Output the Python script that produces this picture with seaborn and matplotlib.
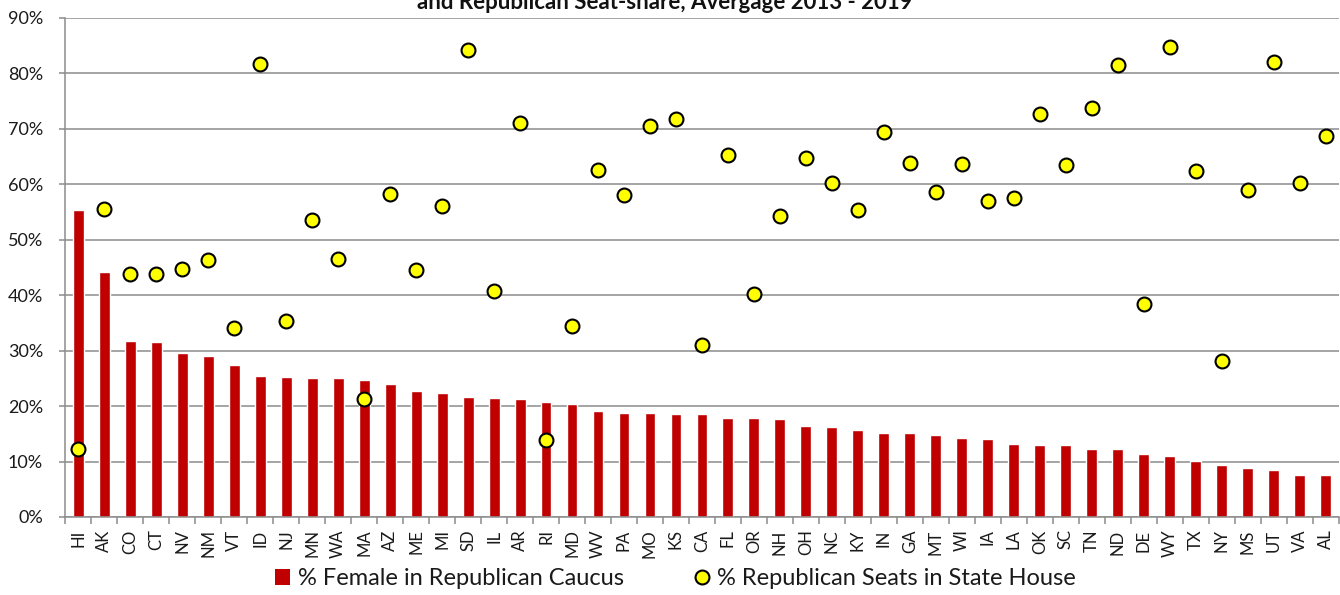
import numpy as np
import pandas as pd
import matplotlib
matplotlib.use("Agg")
import matplotlib.pyplot as plt
from matplotlib.patches import Patch
from matplotlib.lines import Line2D
from matplotlib.ticker import PercentFormatter, FixedLocator
import seaborn as sns

states = ["HI", "AK", "CO", "CT", "NV", "NM", "VT", "ID", "NJ", "MN",
          "WA", "MA", "AZ", "ME", "MI", "SD", "IL", "AR", "RI", "MD",
          "WV", "PA", "MO", "KS", "CA", "FL", "OR", "NH", "OH", "NC",
          "KY", "IN", "GA", "MT", "WI", "IA", "LA", "OK", "SC", "TN",
          "ND", "DE", "WY", "TX", "NY", "MS", "UT", "VA", "AL"]

# % of the Republican caucus that is female
female_pct = [55.3, 44.1, 31.7, 31.5, 29.5, 29.1, 27.5, 25.4, 25.2, 25.0,
              25.0, 24.7, 24.0, 22.8, 22.4, 21.6, 21.5, 21.2, 20.7, 20.4,
              19.1, 18.8, 18.7, 18.5, 18.5, 17.9, 17.8, 17.6, 16.5, 16.3,
              15.7, 15.2, 15.1, 14.7, 14.2, 14.1, 13.2, 13.0, 13.0, 12.3,
              12.2, 11.3, 11.0, 10.1, 9.4, 8.9, 8.5, 7.6, 7.5]

# % of state house seats held by Republicans
gop_seat_pct = [12.2, 55.5, 43.8, 43.8, 44.8, 46.3, 34.1, 81.7, 35.3, 53.6,
                46.5, 21.2, 58.3, 44.6, 56.0, 84.3, 40.7, 71.0, 13.8, 34.5,
                62.6, 58.1, 70.6, 71.7, 31.0, 65.2, 40.3, 54.3, 64.7, 60.2,
                55.4, 69.4, 63.8, 58.6, 63.7, 57.0, 57.5, 72.7, 63.4, 73.7,
                81.5, 38.4, 84.7, 62.4, 28.1, 59.0, 82.1, 60.2, 68.8]

title_text = "and Republican Seat-share, Avergage 2013 - 2019"
bar_label = "% Female in Republican Caucus"
dot_label = "% Republican Seats in State House"

df = pd.DataFrame({"state": states, "female": female_pct, "seats": gop_seat_pct})

sns.set_theme(style="white")
plt.rcParams["font.family"] = ["Lato", "DejaVu Sans"]

bar_color = "#C00000"
grid_color = "#8C8C8C"
text_color = "#1A1A1A"

fig = plt.figure(figsize=(13.4, 5.95), dpi=100)
ax = fig.add_axes([0.0487, 0.1311, 0.9503, 0.8387])

sns.barplot(data=df, x="state", y="female", color=bar_color, width=0.42,
            saturation=1, ax=ax, zorder=2)
sns.stripplot(data=df, x="state", y="seats", jitter=False, size=10,
              color="#FFFF00", edgecolor="black", linewidth=1.5, ax=ax, zorder=3)

ax.set_xlim(-0.5, len(states) - 0.5)
ax.set_ylim(0, 90)
ax.yaxis.set_major_locator(FixedLocator(np.arange(0, 91, 10)))
ax.yaxis.set_major_formatter(PercentFormatter(decimals=0))
ax.set_xlabel("")
ax.set_ylabel("")

ax.grid(axis="y", color=grid_color, linewidth=1.1, zorder=0)
ax.grid(axis="x", visible=False)
ax.set_axisbelow(True)

for side in ["top", "right"]:
    ax.spines[side].set_visible(False)
for side in ["left", "bottom"]:
    ax.spines[side].set_color(grid_color)
    ax.spines[side].set_linewidth(1.1)

ax.tick_params(axis="y", labelsize=13, colors=grid_color, labelcolor=text_color,
               length=4, width=1.1, direction="out", left=True, pad=12)
ax.tick_params(axis="x", labelsize=12, labelcolor=text_color, rotation=90,
               length=0, pad=9)
ax.set_xticks(np.arange(-0.5, len(states), 1.0), minor=True)
ax.tick_params(axis="x", which="minor", length=5, width=1.1, color=grid_color,
               bottom=True)

fig.text(0.496, (595 - 9) / 595, title_text, ha="center", va="baseline",
         fontsize=16, fontweight="bold", color="#111111")

handles = [
    Patch(facecolor=bar_color, edgecolor="none", label=bar_label),
    Line2D([], [], linestyle="none", marker="o", markersize=10,
           markerfacecolor="#FFFF00", markeredgecolor="black",
           markeredgewidth=1.5, label=dot_label),
]
fig.legend(handles=handles, loc="center", bbox_to_anchor=(0.504, 0.027),
           ncol=2, frameon=False, fontsize=17, handlelength=0.64,
           handleheight=0.64, handletextpad=0.3, columnspacing=3.0,
           labelcolor=text_color)

fig.savefig("out.png", dpi=100)
